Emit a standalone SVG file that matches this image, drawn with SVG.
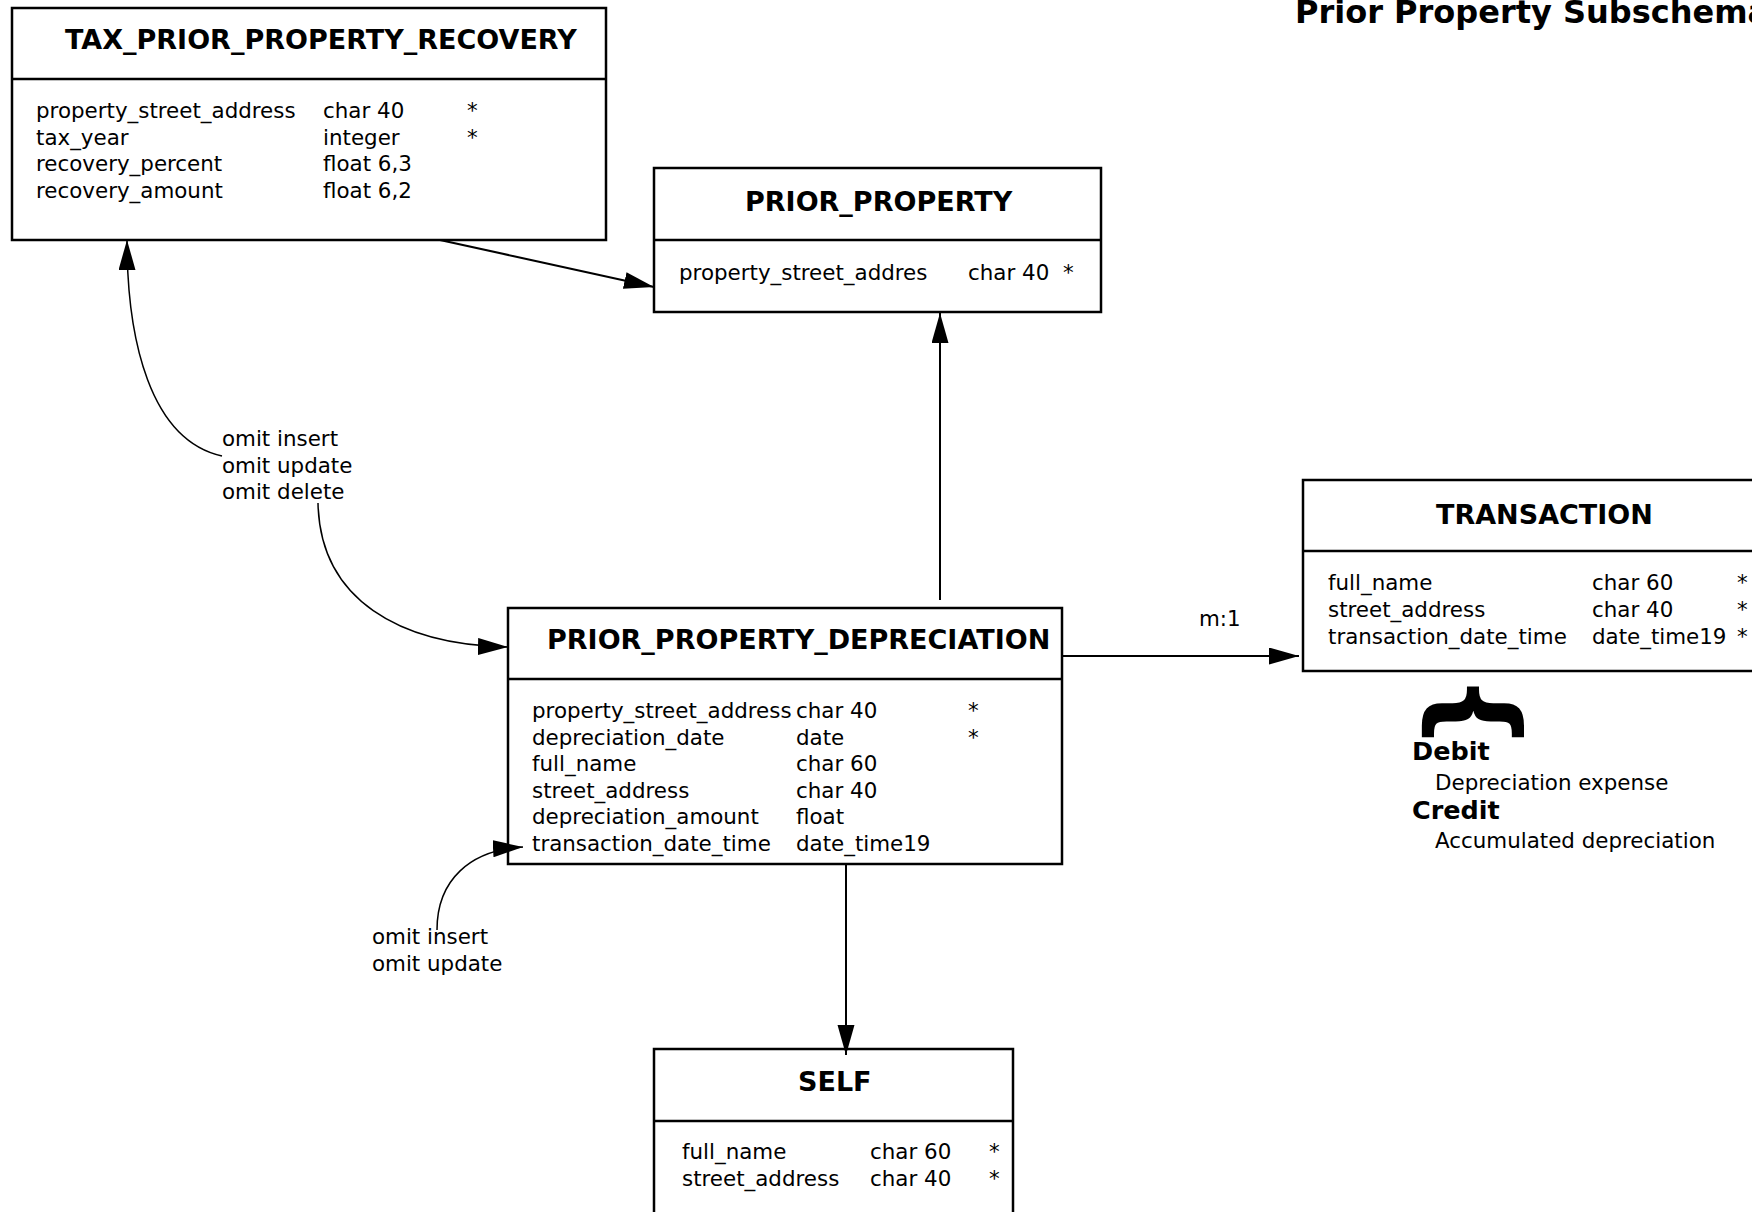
<svg xmlns="http://www.w3.org/2000/svg" width="1752" height="1212" viewBox="0 0 1752 1212">
<style>
.box{fill:#fff;stroke:#000;stroke-width:2.5}
.div{stroke:#000;stroke-width:2.5}
.t{font-family:"DejaVu Sans","Liberation Sans",sans-serif;font-weight:bold;font-size:27px;fill:#000}
.f{font-family:"DejaVu Sans","Liberation Sans",sans-serif;font-size:21.4px;fill:#000}
.b{font-family:"DejaVu Sans","Liberation Sans",sans-serif;font-weight:bold;font-size:25.5px;fill:#000}
.c{fill:none;stroke:#000;stroke-width:2}
.cv{fill:none;stroke:#000;stroke-width:1.5}
</style>
<defs>
<marker id="ah" markerUnits="userSpaceOnUse" markerWidth="32" markerHeight="18" refX="30" refY="8.5" orient="auto">
<path d="M0,0 L30,8.5 L0,17 z" fill="#000"/>
</marker>
</defs>
<rect width="1752" height="1212" fill="#fff"/>
<text id="title" class="t" x="1295" y="23" style="font-size:32px">Prior Property Subschema</text>

<g id="tax_prior_property_recovery">
<rect class="box" x="12" y="8" width="594" height="232"/>
<line class="div" x1="12" y1="79" x2="606" y2="79"/>
<text class="t" x="65" y="49">TAX_PRIOR_PROPERTY_RECOVERY</text>
<text class="f" x="36" y="118">property_street_address</text><text class="f" x="323" y="118">char 40</text><text class="f" x="467" y="118">*</text>
<text class="f" x="36" y="144.7">tax_year</text><text class="f" x="323" y="144.7">integer</text><text class="f" x="467" y="144.7">*</text>
<text class="f" x="36" y="171.3">recovery_percent</text><text class="f" x="323" y="171.3">float 6,3</text>
<text class="f" x="36" y="198">recovery_amount</text><text class="f" x="323" y="198">float 6,2</text>
</g>

<g id="prior_property">
<rect class="box" x="654" y="168" width="447" height="144"/>
<line class="div" x1="654" y1="240" x2="1101" y2="240"/>
<text class="t" x="745" y="211">PRIOR_PROPERTY</text>
<text class="f" x="679" y="280">property_street_addres</text><text class="f" x="968" y="280">char 40</text><text class="f" x="1063" y="280">*</text>
</g>

<g id="prior_property_depreciation">
<rect class="box" x="508" y="608" width="554" height="256"/>
<line class="div" x1="508" y1="679" x2="1062" y2="679"/>
<text class="t" x="547" y="649">PRIOR_PROPERTY_DEPRECIATION</text>
<text class="f" x="532" y="718">property_street_address</text><text class="f" x="796" y="718">char 40</text><text class="f" x="968" y="718">*</text>
<text class="f" x="532" y="744.6">depreciation_date</text><text class="f" x="796" y="744.6">date</text><text class="f" x="968" y="744.6">*</text>
<text class="f" x="532" y="771.2">full_name</text><text class="f" x="796" y="771.2">char 60</text>
<text class="f" x="532" y="797.8">street_address</text><text class="f" x="796" y="797.8">char 40</text>
<text class="f" x="532" y="824.4">depreciation_amount</text><text class="f" x="796" y="824.4">float</text>
<text class="f" x="532" y="851">transaction_date_time</text><text class="f" x="796" y="851">date_time19</text>
</g>

<g id="transaction">
<rect class="box" x="1303" y="480" width="470" height="191"/>
<line class="div" x1="1303" y1="551" x2="1773" y2="551"/>
<text class="t" x="1436" y="524">TRANSACTION</text>
<text class="f" x="1328" y="590">full_name</text><text class="f" x="1592" y="590">char 60</text><text class="f" x="1737" y="590">*</text>
<text class="f" x="1328" y="617">street_address</text><text class="f" x="1592" y="617">char 40</text><text class="f" x="1737" y="617">*</text>
<text class="f" x="1328" y="644">transaction_date_time</text><text class="f" x="1592" y="644">date_time19</text><text class="f" x="1737" y="644">*</text>
</g>

<g id="debit_credit_note">
<text class="t" transform="translate(1471,712) rotate(90)" x="0" y="31" text-anchor="middle" style="font-size:110px">{</text>
<text class="b" x="1412" y="760">Debit</text>
<text class="f" x="1435" y="790">Depreciation expense</text>
<text class="b" x="1412" y="819">Credit</text>
<text class="f" x="1435" y="848">Accumulated depreciation</text>
</g>

<g id="self">
<rect class="box" x="654" y="1049" width="359" height="180"/>
<line class="div" x1="654" y1="1121" x2="1013" y2="1121"/>
<text class="t" x="798" y="1091">SELF</text>
<text class="f" x="682" y="1159">full_name</text><text class="f" x="870" y="1159">char 60</text><text class="f" x="989" y="1159">*</text>
<text class="f" x="682" y="1185.6">street_address</text><text class="f" x="870" y="1185.6">char 40</text><text class="f" x="989" y="1185.6">*</text>
</g>

<g id="connectors">
<line class="c" x1="440" y1="240" x2="654" y2="287" marker-end="url(#ah)"/>
<line class="c" x1="940" y1="600" x2="940" y2="313" marker-end="url(#ah)"/>
<line class="c" x1="846" y1="864" x2="846" y2="1055" marker-end="url(#ah)"/>
<line class="c" x1="1062" y1="656" x2="1299" y2="656" marker-end="url(#ah)"/>
<text class="f" x="1199" y="626">m:1</text>
<path class="cv" d="M222,456 C150,440 127,340 127,240" marker-end="url(#ah)"/>
<path class="cv" d="M318,503 C320,600 400,645 508,647" marker-end="url(#ah)"/>
<text class="f" x="222" y="446">omit insert</text>
<text class="f" x="222" y="473">omit update</text>
<text class="f" x="222" y="499">omit delete</text>
<path class="cv" d="M437,930 C437,880 470,850 523,847" marker-end="url(#ah)"/>
<text class="f" x="372" y="944">omit insert</text>
<text class="f" x="372" y="971">omit update</text>
</g>
</svg>
